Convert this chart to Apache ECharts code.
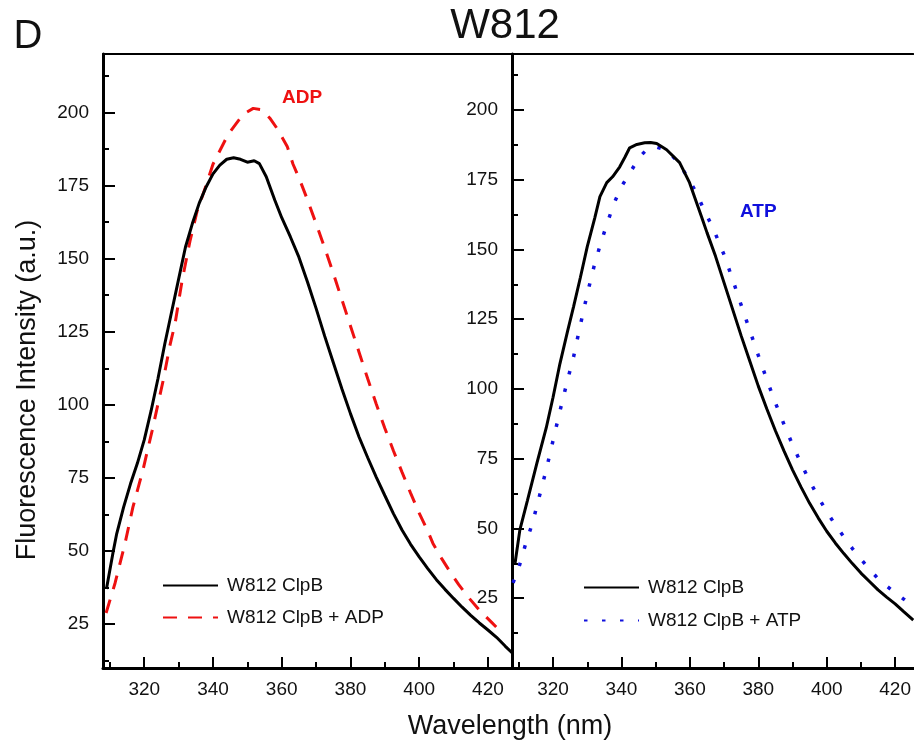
<!DOCTYPE html>
<html>
<head>
<meta charset="utf-8">
<script src="https://cdn.jsdelivr.net/npm/echarts@6/dist/echarts.min.js"></script>
<style>
  html, body { margin: 0; padding: 0; background: #fff; }
  #chart { width: 914px; height: 748px; }
</style>
</head>
<body>
<div id="chart"></div>
<script>
// tick positions
const wavelengthTicks = [320, 340, 360, 380, 400, 420]
const wavelengthMinor = [310, 330, 350, 370, 390, 410]
const intensityTicks = [25, 50, 75, 100, 125, 150, 175, 200]
const intensityMinor = [12.5, 37.5, 62.5, 87.5, 112.5, 137.5, 162.5, 187.5, 212.5]

// left panel: ClpB vs ClpB + ADP  [nm, intensity]
const leftClpB = [
  [309, 37], [311, 50], [312, 56], [314, 65], [316, 73], [318, 80], [320, 88],
  [322, 98], [324, 109], [326, 121], [328, 132], [330, 143], [332, 154], [334, 162],
  [336, 169], [338, 174.5], [340, 179], [342, 182], [344, 184], [346, 184.5],
  [348, 184], [350, 183], [352, 183.5], [353.5, 182.5], [355.5, 178], [358, 170],
  [360, 164], [362.5, 157.5], [365, 150.5], [367.5, 142], [370, 133], [372.5, 123.5],
  [375, 114.5], [377.5, 105.5], [380, 97], [382.5, 89], [385, 82], [387.5, 75.3],
  [390, 69], [392.5, 62.8], [395, 57.2], [397.5, 52.3], [400, 48], [402.5, 44],
  [405, 40.2], [407.5, 36.9], [410, 33.8], [412.5, 30.8], [415, 28], [417.5, 25.4],
  [420, 23], [422.5, 20.5], [425, 17.5], [427, 15.2]
]
const leftADP = [
  [308.9, 28.8], [311.5, 39], [314.4, 52.6], [316.7, 65], [319.6, 77.6], [322.3, 91.2],
  [325.5, 108.3], [327.5, 120.5], [329, 128], [331, 142.4], [333.3, 156], [335.4, 166.3],
  [337.7, 174.1], [340, 182.3], [344.4, 192.5], [348.8, 199.4], [351.7, 201.4], [354, 201],
  [356.6, 198], [358.6, 194.6], [361.6, 188.4], [363.3, 182.3], [365.4, 176.5], [367.4, 170.4],
  [370, 162], [372.5, 153.7], [375, 145], [377.5, 136], [380, 127], [382.5, 118],
  [385, 109], [387.5, 100.3], [390, 92], [392.5, 84.3], [395, 77], [397.5, 69.8],
  [400, 63], [402.5, 56.8], [404, 52.6], [406.5, 47.5], [408.7, 43.4], [411.5, 38.5],
  [414.3, 34.2], [417.5, 29.8], [421, 25.7], [423, 23.3]
]

// right panel: ClpB vs ClpB + ATP
const rightClpB = [
  [308.9, 37.6], [310.3, 49.5], [312.5, 60], [315.3, 73.5], [318, 86], [320, 97],
  [322, 109], [324.3, 121], [326, 129.5], [328, 140], [330, 151], [332.2, 161.3],
  [333.7, 168.9], [335.7, 173.9], [337.4, 176], [339.5, 179.6], [341, 183], [342.4, 186.4],
  [344.5, 187.6], [346.8, 188.2], [348.5, 188.3], [350.3, 187.9], [353.2, 185.7], [357, 181.1],
  [359.9, 173.9], [363.4, 161.7], [365, 156], [367.5, 147.5], [370, 138], [372.5, 128.5],
  [375, 119], [377.5, 110], [380, 101], [382.5, 92.8], [385, 85], [387.5, 77.8], [390, 71],
  [392.5, 64.8], [395, 59], [397.5, 53.8], [400, 49], [402.5, 44.8], [405, 41], [407.5, 37.4],
  [410, 34], [412.5, 31], [415, 28], [417.5, 25.4], [420, 23], [422.5, 20.2], [425.3, 17.2]
]
const rightATP = [
  [308.3, 30.5], [310, 36], [312, 44.5], [314, 52], [316, 61.5], [318, 71], [320, 81.5],
  [322, 92], [324, 102], [326, 111.5], [328, 123], [330, 134], [332, 144], [334, 152.5],
  [336, 160], [338, 167], [340, 172.5], [342, 176.5], [344, 180.5], [346, 184], [348, 186.5],
  [350, 186.8], [352, 186], [354, 184.5], [356, 182], [358, 178.5], [360, 174.5], [362, 170],
  [364, 164.5], [367, 157], [370, 148], [372.5, 139.2], [375, 130], [377.5, 121], [380, 112],
  [382.5, 103.3], [385, 95], [387.5, 87.3], [390, 80], [392.5, 73.3], [395, 67], [397.5, 61.3],
  [400, 56], [402.5, 51.3], [405, 47], [407.5, 42.8], [410, 39], [412.5, 35.4], [415, 32],
  [417.5, 29.4], [420, 27], [422.5, 24.7], [425, 22.5]
]

const FONT = 'Liberation Sans, Arial, sans-serif'

const mainX = (grid, max) => ({
  gridIndex: grid, type: 'value', position: 'bottom', min: 308, max: max,
  axisLine: { lineStyle: { color: '#000', width: 3 } },
  axisTick: { inside: true, length: 11, customValues: wavelengthTicks, lineStyle: { color: '#000', width: 2 } },
  axisLabel: { customValues: wavelengthTicks, margin: 12, fontSize: 19, color: '#111', fontFamily: FONT },
  splitLine: { show: false },
})
const minorX = (grid, max) => ({
  gridIndex: grid, type: 'value', position: 'bottom', min: 308, max: max,
  axisLine: { show: false },
  axisTick: { inside: true, length: 6, customValues: wavelengthMinor, lineStyle: { color: '#000', width: 2 } },
  axisLabel: { show: false },
  splitLine: { show: false },
})
const topX = (grid, max) => ({
  gridIndex: grid, type: 'value', position: 'top', min: 308, max: max,
  axisLine: { lineStyle: { color: '#000', width: 2 } },
  axisTick: { show: false }, axisLabel: { show: false }, splitLine: { show: false },
})
const mainY = (grid, min) => ({
  gridIndex: grid, type: 'value', position: 'left', min: min, max: 220,
  axisLine: { show: true, lineStyle: { color: '#000', width: 3 } },
  axisTick: { show: true, inside: true, length: 12, customValues: intensityTicks, lineStyle: { color: '#000', width: 2 } },
  axisLabel: { customValues: intensityTicks, margin: 14, fontSize: 19, color: '#111', fontFamily: FONT },
  splitLine: { show: false },
})
const minorY = (grid, min) => ({
  gridIndex: grid, type: 'value', position: 'left', min: min, max: 220,
  axisLine: { show: false },
  axisTick: { show: true, inside: true, length: 6, customValues: intensityMinor, lineStyle: { color: '#000', width: 2 } },
  axisLabel: { show: false },
  splitLine: { show: false },
})

const lineSeries = (name, data, xi, yi, color, dash, width) => ({
  name: name, type: 'line', data: data,
  xAxisIndex: xi, yAxisIndex: yi,
  symbol: 'none', smooth: false,
  lineStyle: { color: color, width: width, type: dash },
  itemStyle: { color: color },
  z: color === '#000' ? 3 : 2,
})

const legendBase = {
  orient: 'vertical', itemHeight: 14,
  itemStyle: { opacity: 0 },
  textStyle: { fontSize: 19, color: '#111', fontFamily: FONT, padding: [0, 0, 0, 4] },
  selectedMode: false,
}

const chart = echarts.init(document.getElementById('chart'), null, { renderer: 'canvas' })
chart.setOption({
  animation: false,
  backgroundColor: '#fff',
  grid: [
    { left: 103, top: 54, width: 409, height: 614 },
    { left: 512, top: 54, width: 402, height: 614 },
  ],
  xAxis: [
    mainX(0, 427), minorX(0, 427), topX(0, 427),
    mainX(1, 425.3), minorX(1, 425.3), topX(1, 425.3),
  ],
  yAxis: [
    mainY(0, 10), minorY(0, 10),
    mainY(1, 0), minorY(1, 0),
  ],
  legend: [
    Object.assign({}, legendBase, {
      data: ['W812 ClpB', 'W812 ClpB + ADP'],
      left: 157, top: 571, itemWidth: 55, itemGap: 13,
    }),
    Object.assign({}, legendBase, {
      data: ['W812 ClpB', 'W812 ClpB + ATP'],
      left: 578, top: 573, itemWidth: 55, itemGap: 14,
    }),
  ],
  graphic: [
    { type: 'text', x: 505, y: 26, style: { text: 'W812', font: '42px ' + FONT, fill: '#111', align: 'center', verticalAlign: 'middle' } },
    { type: 'text', x: 28, y: 37, style: { text: 'D', font: '40px ' + FONT, fill: '#111', align: 'center', verticalAlign: 'middle' } },
    { type: 'text', x: 28, y: 390, rotation: Math.PI / 2, style: { text: 'Fluorescence Intensity (a.u.)', font: '27px ' + FONT, fill: '#111', align: 'center', verticalAlign: 'middle' } },
    { type: 'text', x: 510, y: 727, style: { text: 'Wavelength (nm)', font: '27px ' + FONT, fill: '#111', align: 'center', verticalAlign: 'middle' } },
    { type: 'text', x: 282, y: 98, style: { text: 'ADP', font: 'bold 19px ' + FONT, fill: '#ee1111', align: 'left', verticalAlign: 'middle' } },
    { type: 'text', x: 740, y: 212, style: { text: 'ATP', font: 'bold 19px ' + FONT, fill: '#1010dd', align: 'left', verticalAlign: 'middle' } },
  ],
  series: [
    lineSeries('W812 ClpB', leftClpB, 0, 0, '#000', 'solid', 3),
    lineSeries('W812 ClpB + ADP', leftADP, 0, 0, '#ee1111', [14, 11], 3),
    lineSeries('W812 ClpB', rightClpB, 3, 2, '#000', 'solid', 3),
    lineSeries('W812 ClpB + ATP', rightATP, 3, 2, '#1010dd', [3.5, 14.5], 3.5),
  ],
})
</script>
</body>
</html>
